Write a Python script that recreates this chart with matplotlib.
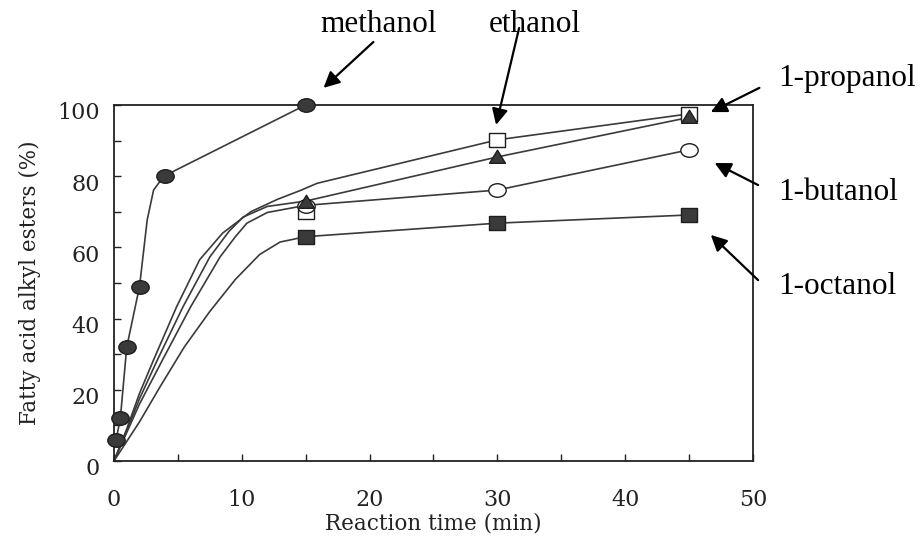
import matplotlib
matplotlib.use('Agg')
import matplotlib.pyplot as plt
from matplotlib.path import Path
from matplotlib.transforms import Affine2D, ScaledTranslation

# measured points (reaction time in min, ester yield in %)
meoh_t = [0.17, 0.5, 1, 2, 4, 15]
meoh_y = [6, 12, 32, 49, 80, 100]
t_long = [15, 30, 45]
etoh_y = [70, 90.2, 97.5]
proh_y = [72.8, 85.4, 96.5]
buoh_y = [71.5, 76.1, 87.4]
octoh_y = [63, 66.8, 69.1]

# traced fitted curves
meoh_ct = [0.17, 0.5, 1, 2, 2.6, 3.1, 3.9, 15]
meoh_cy = [6, 12, 32, 49, 67.7, 76.1, 80, 100]
etoh_ct = [0, 1, 2, 3.1, 4.9, 6.7, 8.5, 10.7, 12.8, 14.6, 15.9, 30, 45]
etoh_cy = [0, 9, 19, 28.4, 43.3, 56.5, 64, 70, 73.5, 76, 78, 90.2, 97.5]
proh_ct = [0, 1, 2, 3.4, 5.4, 7.5, 9, 10.1, 12, 15, 30, 45]
proh_cy = [0, 8.5, 17.5, 28.4, 43.3, 57.3, 64.5, 68.5, 71.5, 73, 85.4, 96.5]
buoh_ct = [0, 1, 2, 3.8, 6, 8.3, 9.5, 10.4, 12, 15, 30, 45]
buoh_cy = [0, 8, 16, 28.4, 43.3, 57.3, 63, 66.8, 69.8, 71.8, 76.1, 87.4]
octoh_ct = [0, 2, 3.6, 5.5, 7.5, 9.5, 11.4, 13, 15, 30, 45]
octoh_cy = [0, 11, 20.8, 32, 42, 51, 58, 61.5, 63, 66.8, 69.1]

names = ['methanol', 'ethanol', '1-propanol', '1-butanol', '1-octanol']

plt.rcParams['font.family'] = 'DejaVu Serif'
fig = plt.figure(figsize=(9.22, 5.41), dpi=100)
ax = fig.add_axes([0.1236, 0.1479, 0.6931, 0.6581])

dark = '#3a3a3a'
edge = '#1e1e1e'
ell = Path.unit_circle().transformed(Affine2D().scale(1, 0.78))
sq = Path.unit_rectangle().transformed(Affine2D().translate(-0.5, -0.5).scale(1, 0.85))
tri = Path([(0, 0.5), (-0.55, -0.4), (0.55, -0.4), (0, 0.5)],
           [Path.MOVETO, Path.LINETO, Path.LINETO, Path.CLOSEPOLY])

for ct, cy in [(meoh_ct, meoh_cy), (etoh_ct, etoh_cy), (proh_ct, proh_cy),
               (buoh_ct, buoh_cy), (octoh_ct, octoh_cy)]:
    ax.plot(ct, cy, color=dark, lw=1.2, zorder=2, clip_on=False)

mk = dict(ls='none', clip_on=False, markeredgecolor=edge, markeredgewidth=1.0)
ax.plot(meoh_t, meoh_y, marker=ell, ms=12.5, markerfacecolor=dark, zorder=5, **mk)
ax.plot(t_long, octoh_y, marker=sq, ms=12, markerfacecolor=dark, zorder=5, **mk)
ax.plot(t_long, etoh_y, marker=sq, ms=12, markerfacecolor='white', zorder=3, **mk)
ax.plot(t_long, buoh_y, marker=ell, ms=12.5, markerfacecolor='white', zorder=4, **mk)
ax.plot(t_long, proh_y, marker=tri, ms=11.5, markerfacecolor=dark, zorder=6, **mk)

ax.set_xlim(0, 50)
ax.set_ylim(0, 100)
ax.set_xticks(range(0, 51, 10))
ax.set_xticks(range(0, 51, 5), minor=True)
ax.set_yticks(range(0, 101, 20))
ax.set_yticks(range(0, 101, 10), minor=True)
ax.tick_params(which='both', direction='in', length=5, width=1, colors='#222222',
               labelsize=16, top=False, right=False)
ax.tick_params(axis='x', pad=20)
ax.tick_params(axis='y', pad=10)
for lab in ax.get_yticklabels():
    lab.set_transform(lab.get_transform() + ScaledTranslation(0, -6 / 100, fig.dpi_scale_trans))
for s in ax.spines.values():
    s.set_linewidth(1.3)
    s.set_color('#222222')

ax.set_xlabel('Reaction time (min)', fontsize=15.5, color='#222222')
ax.set_ylabel('Fatty acid alkyl esters (%)', fontsize=15.5, color='#222222')
ax.xaxis.set_label_coords(0.5, -0.146)
ax.yaxis.set_label_coords(-0.114, 0.5)

# label text position, arrow tail, arrow head (data coordinates)
notes = [
    ((20.7, 122.5), 'center', (20.3, 117.7), (16.4, 104.8)),
    ((32.9, 122.5), 'center', (31.7, 121.6), (29.9, 94.4)),
    ((52.0, 107.4), 'left', (50.5, 104.8), (46.7, 98.0)),
    ((52.0, 75.3), 'left', (50.4, 77.5), (47.0, 83.7)),
    ((52.0, 48.9), 'left', (50.4, 50.8), (46.7, 63.5)),
]
for name, (tpos, ha, tail, head) in zip(names, notes):
    ax.text(tpos[0], tpos[1], name, ha=ha, va='center', fontsize=22.5,
            family='Liberation Serif', clip_on=False)
    ax.annotate('', xy=head, xytext=tail, annotation_clip=False,
                arrowprops=dict(arrowstyle='-|>', color='black', lw=1.6,
                                mutation_scale=24, shrinkA=0, shrinkB=0))

fig.savefig('out.png', dpi=100)
